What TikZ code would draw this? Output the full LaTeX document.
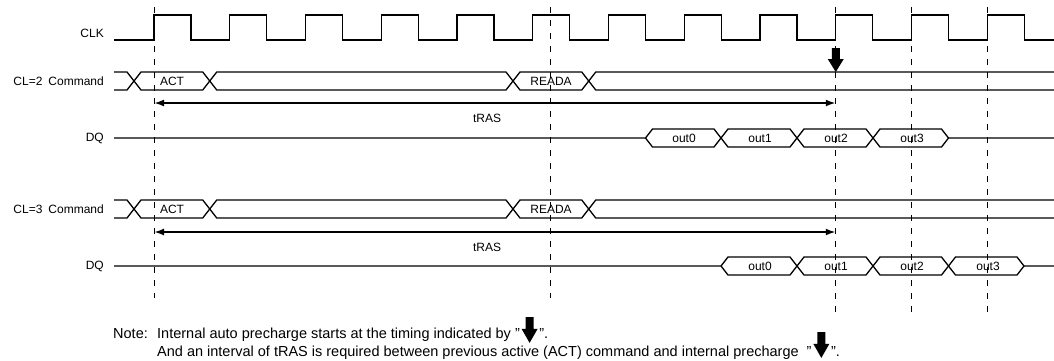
\documentclass[tikz,border=0pt]{standalone}
\usepackage{fontspec}
\setmainfont{Liberation Sans}
\usetikzlibrary{arrows.meta}
\begin{document}
\begin{tikzpicture}[x=1pt,y=-1pt,
  sig/.style={line width=1.3pt, line join=miter},
  guide/.style={line width=0.8pt, dash pattern=on 6pt off 7pt},
  tras/.style={line width=2.2pt, {Latex[length=10pt,width=7pt]}-{Latex[length=10pt,width=7pt]}},
  lbl/.style={anchor=east, font=\fontsize{12}{14}\selectfont, inner sep=0pt},
  bustxt/.style={font=\fontsize{12}{14}\selectfont, inner sep=0pt},
  notetxt/.style={anchor=base west, font=\fontsize{14.5}{16}\selectfont, inner sep=0pt},
  dnarrow/.pic={\fill (-4,0) -- (4,0) -- (4,11) -- (8,11) -- (0,24) -- (-8,11) -- (-4,11) -- cycle;}
]
\useasboundingbox (0,0) rectangle (1054,360);

% guide lines
\foreach \n/\x/\yb in {g0/154/298, g1/550/298, g2/835.75/313, g3/911.5/313, g4/987.25/313} {
  \coordinate (\n t) at (\x,7);
  \coordinate (\n b) at (\x,\yb);
  \draw[guide] (\n t) -- (\n b);
}

% signal names
\node[lbl] (lclk) at (104,33) {CLK};
\node[lbl] (lcmd2) at (104,81) {CL=2\hspace{6pt}Command};
\node[lbl] (ldq2) at (104,138) {DQ};
\node[lbl] (lcmd3) at (104,209) {CL=3\hspace{6pt}Command};
\node[lbl] (ldq3) at (104,266) {DQ};

% clock
\draw[sig] (114,40) \foreach \k in {0,...,11} { -- ({154+75.75*\k},40) -- ({154+75.75*\k},15) -- ({191+75.75*\k},15) -- ({191+75.75*\k},40) } -- (1054,40);

% CL=2 command bus
\draw[sig] (114,72) -- (127,72) -- (141,90) -- (202.75,90) -- (216.75,72) -- (506,72) -- (520,90) -- (581.75,90) -- (595.75,72) -- (1054,72);
\draw[sig] (114,90) -- (127,90) -- (141,72) -- (202.75,72) -- (216.75,90) -- (506,90) -- (520,72) -- (581.75,72) -- (595.75,90) -- (1054,90);
\node[bustxt] (act2) at (172,81) {ACT};
\node[bustxt] (reada2) at (551,81) {READA};

% CL=2 tRAS
\coordinate (r2a) at (154,103);
\coordinate (r2b) at (835.75,103);
\draw[tras] (r2a) -- (r2b);
\node[bustxt] (tras2) at (487,118) {tRAS};

% CL=2 DQ
\draw[sig] (114,138) -- (645.5,138) -- (652.5,129) -- (714,129) -- (728,147) -- (790,147) -- (804,129) -- (866,129) -- (880,147) -- (941.5,147) -- (948.5,138) -- (1054,138);
\draw[sig] (645.5,138) -- (652.5,147) -- (714,147) -- (728,129) -- (790,129) -- (804,147) -- (866,147) -- (880,129) -- (941.5,129) -- (948.5,138);
\node[bustxt] (o20) at (684,138) {out0};
\node[bustxt] (o21) at (760,138) {out1};
\node[bustxt] (o22) at (836,138) {out2};
\node[bustxt] (o23) at (912,138) {out3};

% CL=3 command bus
\draw[sig] (114,200) -- (127,200) -- (141,218) -- (202.75,218) -- (216.75,200) -- (506,200) -- (520,218) -- (581.75,218) -- (595.75,200) -- (1054,200);
\draw[sig] (114,218) -- (127,218) -- (141,200) -- (202.75,200) -- (216.75,218) -- (506,218) -- (520,200) -- (581.75,200) -- (595.75,218) -- (1054,218);
\node[bustxt] (act3) at (172,209) {ACT};
\node[bustxt] (reada3) at (551,209) {READA};

% CL=3 tRAS
\coordinate (r3a) at (154,232);
\coordinate (r3b) at (835.75,232);
\draw[tras] (r3a) -- (r3b);
\node[bustxt] (tras3) at (487,247) {tRAS};

% CL=3 DQ
\draw[sig] (114,266) -- (721,266) -- (728,257) -- (790,257) -- (804,275) -- (866,275) -- (880,257) -- (941.5,257) -- (955.5,275) -- (1017,275) -- (1024,266) -- (1054,266);
\draw[sig] (721,266) -- (728,275) -- (790,275) -- (804,257) -- (866,257) -- (880,275) -- (941.5,275) -- (955.5,257) -- (1017,257) -- (1024,266);
\node[bustxt] (o30) at (760,266) {out0};
\node[bustxt] (o31) at (836,266) {out1};
\node[bustxt] (o32) at (912,266) {out2};
\node[bustxt] (o33) at (988,266) {out3};

% internal precharge marker
\pic at (835.75,48) {dnarrow};

% note
\node[notetxt] (nnote) at (113,338) {Note:};
\node[notetxt] (n1) at (157,338) {Internal auto precharge starts at the timing indicated by "};
\path (n1.base east) ++(9.5,-21) pic[yscale=1.08] {dnarrow};
\node[notetxt] (n1e) at ([xshift=19pt]n1.base east) {".};
\node[notetxt] (n2) at (157,356) {And an interval of tRAS is required between previous active (ACT) command and internal precharge\ \ "};
\path (n2.base east) ++(9.5,-24) pic[yscale=1.08] {dnarrow};
\node[notetxt] (n2e) at ([xshift=19pt]n2.base east) {".};
\end{tikzpicture}
\end{document}
